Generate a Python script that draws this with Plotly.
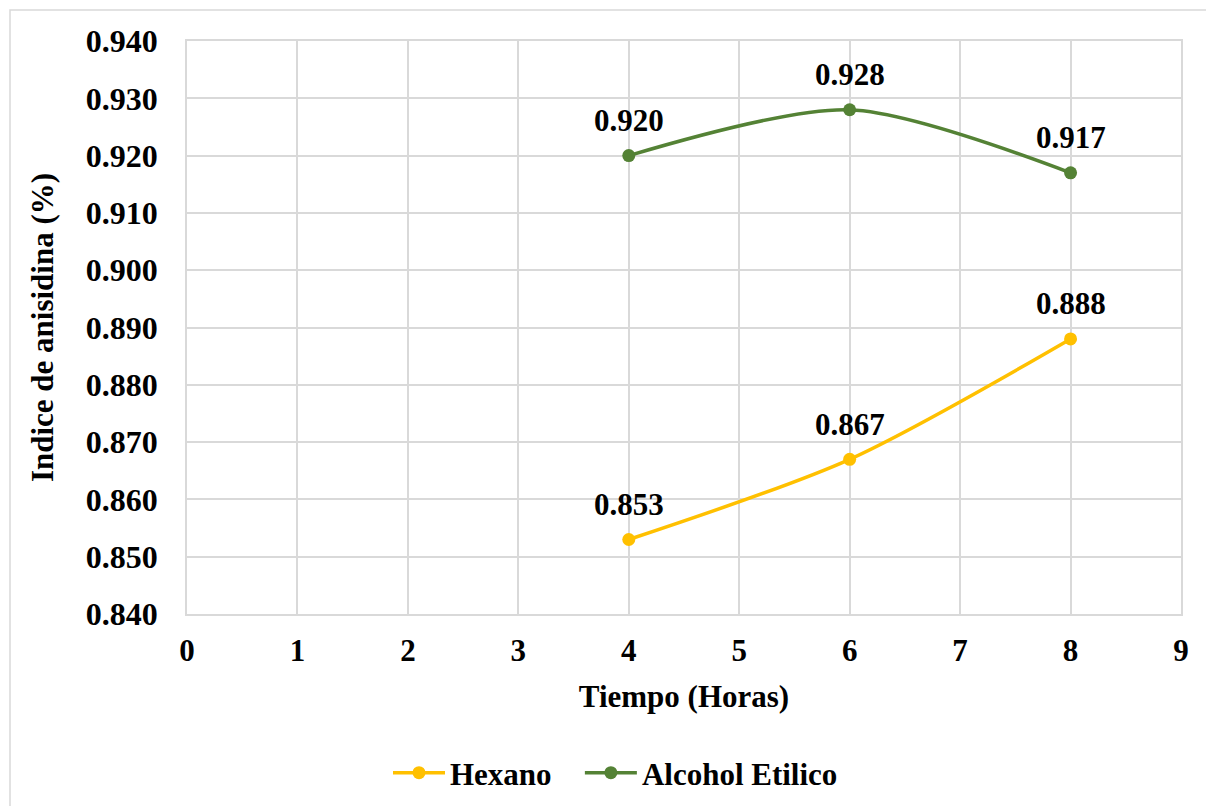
import plotly.graph_objects as go

horas = [4, 6, 8]
hexano = [0.853, 0.867, 0.888]
alcohol_etilico = [0.920, 0.928, 0.917]

x_ticks = list(range(0, 10))
y_ticks = [0.840, 0.850, 0.860, 0.870, 0.880, 0.890, 0.900, 0.910, 0.920, 0.930, 0.940]

FONT = "Liberation Serif"
GRID = "#d9d9d9"
NBSP = "\u00a0"

fig = go.Figure()
series = [("Hexano", hexano, "#FFC000", NBSP * 3), ("Alcohol Etilico", alcohol_etilico, "#548235", "")]
for name, vals, color, pad in series:
    fig.add_trace(go.Scatter(
        x=horas, y=vals, name=f"<b>{name}</b>{pad}", mode="lines+markers",
        line=dict(color=color, width=3.5, shape="spline", smoothing=0.8),
        marker=dict(color=color, size=13),
    ))
    for xv, yv in zip(horas, vals):
        fig.add_annotation(
            x=xv, y=yv, text=f"<b>{yv:.3f}</b>", showarrow=False,
            yshift=35, font=dict(family=FONT, size=31, color="black"),
        )

fig.update_layout(
    width=1206, height=806,
    margin=dict(l=187, r=25, t=41, b=192, autoexpand=False),
    paper_bgcolor="white", plot_bgcolor="white",
    font=dict(family=FONT, color="black"),
    showlegend=True,
    legend=dict(
        orientation="h", x=(388 - 187) / 994, xanchor="left",
        yref="container", y=(806 - 773) / 806, yanchor="middle",
        font=dict(family=FONT, size=31, color="black"),
        tracegroupgap=0, itemwidth=52,
    ),
    xaxis=dict(
        range=[0, 9], tickvals=x_ticks, ticktext=[f"<b>{v}</b>" for v in x_ticks],
        showgrid=True, gridcolor=GRID, gridwidth=1.5,
        showline=True, linecolor=GRID, linewidth=1.5, mirror=True,
        zeroline=False, ticks="", ticklen=0, ticklabelstandoff=8,
        tickfont=dict(family=FONT, size=31, color="black"),
        title=dict(text="<b>Tiempo (Horas)</b>", font=dict(family=FONT, size=31, color="black"), standoff=18),
        automargin=False,
    ),
    yaxis=dict(
        range=[0.840, 0.940], tickvals=y_ticks, ticktext=[f"<b>{v:.3f}</b>" for v in y_ticks],
        showgrid=True, gridcolor=GRID, gridwidth=1.5,
        showline=True, linecolor=GRID, linewidth=1.5, mirror=True,
        zeroline=False, ticks="", ticklen=0, ticklabelstandoff=21,
        tickfont=dict(family=FONT, size=32, color="black"),
        title=dict(text="<b>Indice de anisidina (%)</b>", font=dict(family=FONT, size=31, color="black"), standoff=23),
        automargin=False,
    ),
)

# Outer frame around the chart area (right and bottom edges run past the page)
fig.add_shape(type="rect", xref="paper", yref="paper",
              x0=(10 - 187) / 994, x1=(1215 - 187) / 994,
              y0=(614 - 815) / 573, y1=(614 - 10) / 573,
              line=dict(color=GRID, width=1.5), layer="below")

fig.write_html("out.html")
